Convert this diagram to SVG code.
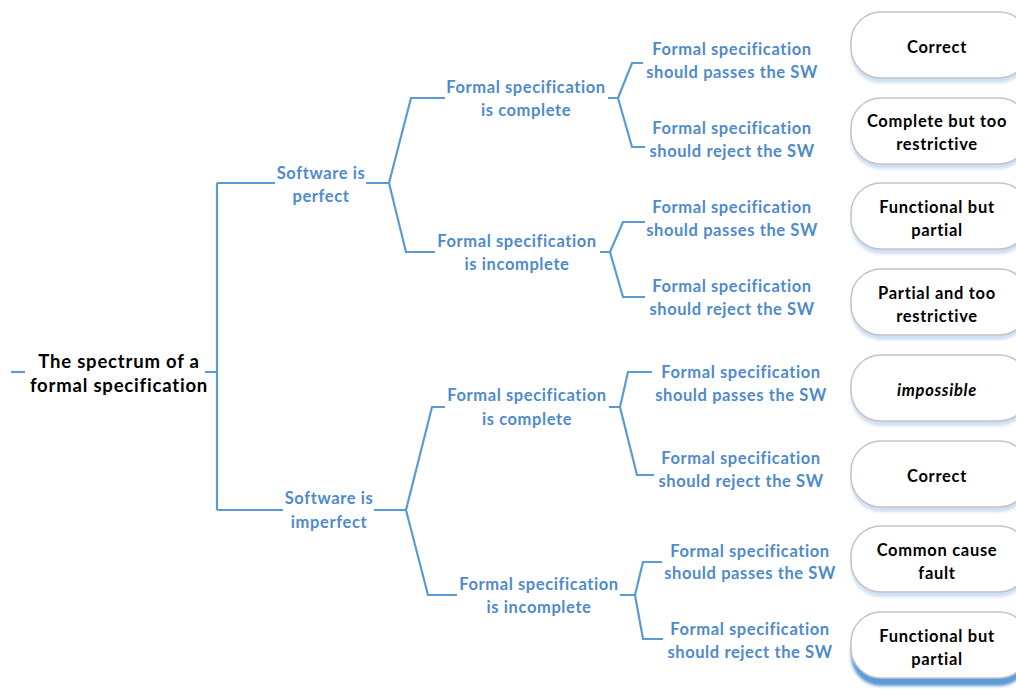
<svg xmlns="http://www.w3.org/2000/svg" width="1016" height="689" viewBox="0 0 1016 689">
  <defs>
    <filter id="soft" x="-10%" y="-20%" width="120%" height="150%">
      <feGaussianBlur stdDeviation="1.5"/>
    </filter>
  </defs>
  <style>
    text { font-family: Lato, "Open Sans", "Liberation Sans", sans-serif; font-weight: bold; text-anchor: middle; transform: translateY(1px); }
    .root { font-size: 18.5px; letter-spacing: 0.8px; fill: #000; }
    .branch { font-size: 16.5px; letter-spacing: 0.6px; fill: #4F8BCB; }
    .result { font-size: 16.5px; letter-spacing: 0.7px; fill: #000; }
    .conn { fill: none; stroke: #5B9BD5; stroke-width: 2.2; stroke-linejoin: miter; }
    .pill { fill: #fff; stroke: #C4C4C4; stroke-width: 1.5; }
    .halo { fill: #B9D3EE; opacity: 0.7; filter: url(#soft); }
    .halo-strong { fill: #5B9BD5; filter: url(#soft); }
  </style>

  <rect width="1016" height="689" fill="#fff"/>

  <!-- tree connectors -->
  <g id="connectors" class="conn">
    <path d="M11,372 H25"/>
    <path d="M205,372 H217 M217,183 V510 M217,183 H275 M217,510 H283"/>
    <path d="M366,183 H389 M389,183 L411,98 H445 M389,183 L406,252 H435"/>
    <path d="M608,98 H618 M618,98 L632,63 H643 M618,98 L632,147 H645"/>
    <path d="M600,252 H610 M610,252 L623,222 H645 M610,252 L623,297 H645"/>
    <path d="M374,510 H406 M406,510 L432,407 H445 M406,510 L428,595 H457"/>
    <path d="M609,407 H620 M620,407 L628,372 H652 M620,407 L637,475 H654"/>
    <path d="M620,595 H635 M635,595 L643,562 H662 M635,595 L643,639 H663"/>
  </g>

  <!-- root -->
  <g id="root">
    <text class="root" x="119" y="367">The spectrum of a</text>
    <text class="root" x="119" y="391">formal specification</text>
  </g>

  <!-- first level -->
  <g id="sw-perfect">
    <text class="branch" x="321" y="178">Software is</text>
    <text class="branch" x="321" y="201">perfect</text>
  </g>
  <g id="sw-imperfect">
    <text class="branch" x="329" y="503">Software is</text>
    <text class="branch" x="329" y="527">imperfect</text>
  </g>

  <!-- second level -->
  <g id="perfect-complete">
    <text class="branch" x="526" y="92">Formal specification</text>
    <text class="branch" x="526" y="115">is complete</text>
  </g>
  <g id="perfect-incomplete">
    <text class="branch" x="517" y="246">Formal specification</text>
    <text class="branch" x="517" y="269">is incomplete</text>
  </g>
  <g id="imperfect-complete">
    <text class="branch" x="527" y="400">Formal specification</text>
    <text class="branch" x="527" y="424">is complete</text>
  </g>
  <g id="imperfect-incomplete">
    <text class="branch" x="539" y="589">Formal specification</text>
    <text class="branch" x="539" y="612">is incomplete</text>
  </g>

  <!-- third level -->
  <g id="pc-pass">
    <text class="branch" x="732" y="54">Formal specification</text>
    <text class="branch" x="732" y="77">should passes the SW</text>
  </g>
  <g id="pc-reject">
    <text class="branch" x="732" y="133">Formal specification</text>
    <text class="branch" x="732" y="156">should reject the SW</text>
  </g>
  <g id="pi-pass">
    <text class="branch" x="732" y="212">Formal specification</text>
    <text class="branch" x="732" y="235">should passes the SW</text>
  </g>
  <g id="pi-reject">
    <text class="branch" x="732" y="291">Formal specification</text>
    <text class="branch" x="732" y="314">should reject the SW</text>
  </g>
  <g id="ic-pass">
    <text class="branch" x="741" y="377">Formal specification</text>
    <text class="branch" x="741" y="400">should passes the SW</text>
  </g>
  <g id="ic-reject">
    <text class="branch" x="741" y="463">Formal specification</text>
    <text class="branch" x="741" y="486">should reject the SW</text>
  </g>
  <g id="ii-pass">
    <text class="branch" x="750" y="556">Formal specification</text>
    <text class="branch" x="750" y="578">should passes the SW</text>
  </g>
  <g id="ii-reject">
    <text class="branch" x="750" y="634">Formal specification</text>
    <text class="branch" x="750" y="657">should reject the SW</text>
  </g>

  <!-- outcomes -->
  <g id="out-1">
    <rect class="halo" x="851" y="17" width="178" height="66" rx="30"/>
    <rect class="pill" x="851" y="12" width="178" height="66" rx="30"/>
    <text class="result" x="937" y="52">Correct</text>
  </g>
  <g id="out-2">
    <rect class="halo" x="851" y="103" width="178" height="66" rx="30"/>
    <rect class="pill" x="851" y="98" width="178" height="66" rx="30"/>
    <text class="result" x="937" y="126">Complete but too</text>
    <text class="result" x="937" y="149">restrictive</text>
  </g>
  <g id="out-3">
    <rect class="halo" x="851" y="188" width="178" height="66" rx="30"/>
    <rect class="pill" x="851" y="183" width="178" height="66" rx="30"/>
    <text class="result" x="937" y="212">Functional but</text>
    <text class="result" x="937" y="235">partial</text>
  </g>
  <g id="out-4">
    <rect class="halo" x="851" y="274" width="178" height="66" rx="30"/>
    <rect class="pill" x="851" y="269" width="178" height="66" rx="30"/>
    <text class="result" x="937" y="298">Partial and too</text>
    <text class="result" x="937" y="321">restrictive</text>
  </g>
  <g id="out-5">
    <rect class="halo" x="851" y="360" width="178" height="66" rx="30"/>
    <rect class="pill" x="851" y="355" width="178" height="66" rx="30"/>
    <text class="result" x="937" y="395" font-style="italic">impossible</text>
  </g>
  <g id="out-6">
    <rect class="halo" x="851" y="446" width="178" height="66" rx="30"/>
    <rect class="pill" x="851" y="441" width="178" height="66" rx="30"/>
    <text class="result" x="937" y="481">Correct</text>
  </g>
  <g id="out-7">
    <rect class="halo" x="851" y="531" width="178" height="66" rx="30"/>
    <rect class="pill" x="851" y="526" width="178" height="66" rx="30"/>
    <text class="result" x="937" y="555">Common cause</text>
    <text class="result" x="937" y="578">fault</text>
  </g>
  <g id="out-8">
    <rect class="halo-strong" x="851" y="620" width="178" height="66" rx="30"/>
    <rect class="pill" x="851" y="612" width="178" height="66" rx="30"/>
    <text class="result" x="937" y="641">Functional but</text>
    <text class="result" x="937" y="664">partial</text>
  </g>
</svg>
